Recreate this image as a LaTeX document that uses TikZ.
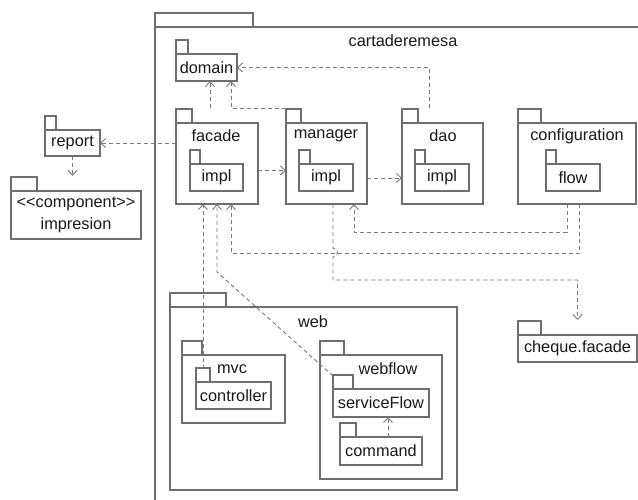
\documentclass[tikz,border=0pt]{standalone}
\usepackage{fontspec}
\setmainfont{Liberation Sans}
\usetikzlibrary{arrows.meta}
\definecolor{boxgray}{HTML}{6E6E6E}
\definecolor{depgray}{HTML}{7A7A7A}
\tikzset{
  pkg/.style={draw=boxgray, line width=1.1pt, rectangle, anchor=north west, outer sep=0pt, inner sep=0pt, text=black!90},
  sz/.style 2 args={minimum width=#1, minimum height=#2},
  ptext/.style={inner sep=0pt, text=black!90},
  dep/.style={draw=depgray, line width=0.9pt, dash pattern=on 4pt off 3pt, -{Straight Barb[length=5pt,width=9pt,line width=0.9pt]}},
  tab/.style={draw=boxgray, line width=1.1pt}
}
\begin{document}
\begin{tikzpicture}[x=1pt,y=-1pt,font=\fontsize{16.3}{19}\selectfont]
  \useasboundingbox (0,0) rectangle (638,499);
  % cartaderemesa
  \coordinate (carta) at (155,27);
  \draw[tab] (640,27) -- (carta) -- (155,500);
  \draw[tab] (carta) rectangle (253,13);
  \node[ptext] (cartat) at (403,41) {cartaderemesa};

  \node[pkg, sz={61}{27}] (domain) at (176,54) {domain};
  \node[pkg, sz={82}{81}] (facade) at (176,123) {};
  \node[ptext] (facadet) at (216,136) {facade};
  \node[pkg, sz={53}{27}] (facadeimpl) at (190,164) {impl};
  \node[pkg, sz={81}{81}] (manager) at (286,123) {};
  \node[ptext] (managert) at (326,136) {manager};
  \node[pkg, sz={54}{27}] (managerimpl) at (299,164) {impl};
  \node[pkg, sz={81}{81}] (dao) at (402,123) {};
  \node[ptext] (daot) at (443,136) {dao};
  \node[pkg, sz={54}{27}] (daoimpl) at (415,164) {impl};
  \node[pkg, sz={118}{81}] (config) at (518,123) {};
  \node[ptext] (configt) at (577,136) {configuration};
  \node[pkg, sz={54}{27}] (flow) at (546,164) {flow};

  \node[pkg, sz={55}{26}] (report) at (45,130) {report};
  \node[pkg, sz={130}{48}, align=center] (impresion) at (11,191) {{<}{<}component{>}{>}\\[3pt]impresion};

  \node[pkg, sz={287}{183}] (web) at (170,307) {};
  \node[ptext] (webt) at (313,322) {web};
  \node[pkg, sz={103}{68}] (mvc) at (182,355) {};
  \node[ptext] (mvct) at (232,369) {mvc};
  \node[pkg, sz={75}{27}] (controller) at (196,382) {controller};
  \node[pkg, sz={122}{124}] (webflow) at (320,355) {};
  \node[ptext] (webflowt) at (388,369) {webflow};
  \node[pkg, sz={96}{28}] (serviceflow) at (333,389) {serviceFlow};
  \node[pkg, sz={82}{28}] (command) at (340,437) {command};

  \node[pkg, sz={119}{27}] (cheque) at (518,335) {cheque.facade};

  \foreach \n/\w in {domain/12, facade/16, facadeimpl/10, manager/15, managerimpl/11,
      dao/16, daoimpl/10, config/23, flow/10, report/11, impresion/26, web/56,
      mvc/20, controller/14, webflow/24, serviceflow/20, command/16, cheque/23}
    \draw[tab] (\n.north west) rectangle ++(\w,-14);

  \draw[dep] (facade.west |- report.east) -- (report.east);
  \draw[dep, shorten >=15pt] (report.south) -- (report.south |- impresion.north);
  \draw[dep] ([xshift=-7pt,yshift=15pt]facade.north) -- ([xshift=-7pt]facade.north |- domain.south);
  \draw[dep] ([yshift=15pt]manager.north west) -| ([xshift=24.5pt]domain.south);
  \draw[dep] ([xshift=-13.5pt,yshift=15pt]dao.north) |- (domain.east);
  \draw[dep] ([yshift=-7pt]facade.east) -- ([yshift=-7pt]manager.west);
  \draw[dep] ([yshift=-14.5pt]manager.east) -- ([yshift=-14.5pt]dao.west);
  \draw[dep] ([xshift=-10pt]config.south) -- ++(0,28) -| ([xshift=27.5pt]manager.south);
  \draw[dep] ([xshift=2.5pt]config.south) -- ++(0,49) -| ([xshift=14pt]facade.south);
  \draw[dep, shorten >=15pt] ([xshift=6.5pt]manager.south) -- ++(0,44)
    .. controls +(6,1) and +(6,-1) .. ++(0,9) -- ++(0,23) -| (cheque.north);
  \draw[dep] ([xshift=7pt,yshift=13pt]controller.north west) -- ([xshift=7pt]controller.north west |- facade.south);
  \draw[dep] ([yshift=13pt]serviceflow.north west) -- ([yshift=-68pt]facade.south) -- (facade.south);
  \draw[dep] ([xshift=7pt]command.north) -- ([xshift=7pt]serviceflow.south);
\end{tikzpicture}
\end{document}
